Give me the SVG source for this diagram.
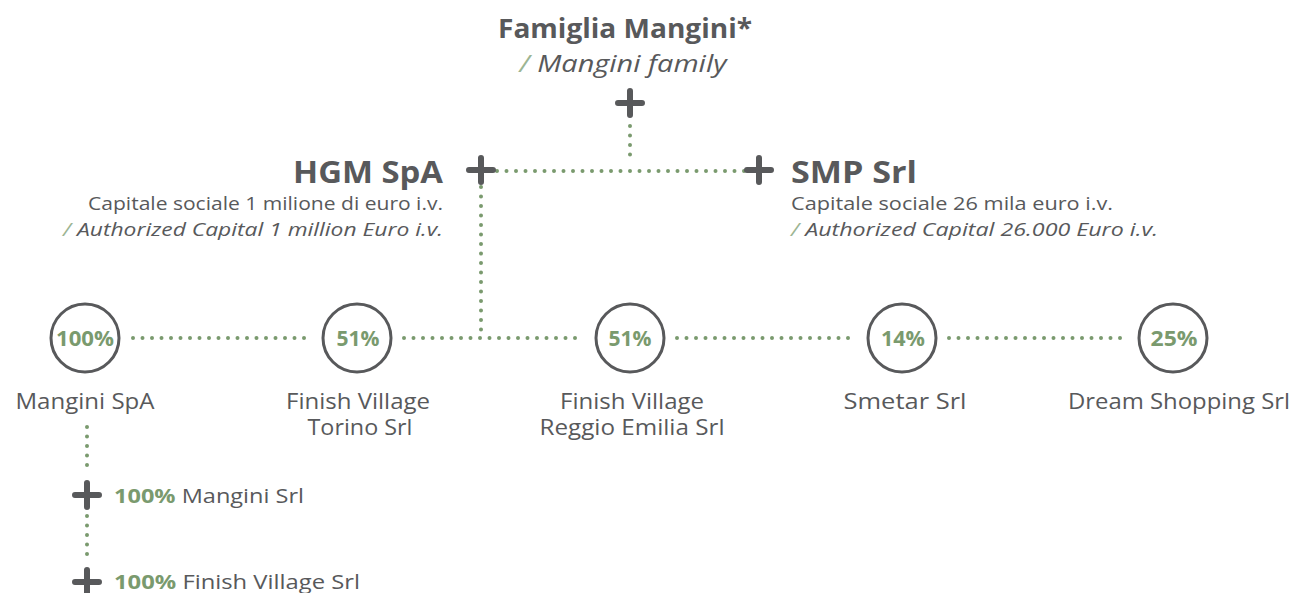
<svg xmlns="http://www.w3.org/2000/svg" width="1294" height="593" viewBox="0 0 1294 593">
<style>
text{font-family:"Open Sans","Liberation Sans",sans-serif;fill:#58595b}
.b{font-weight:bold}
.i{font-style:italic}
.g{fill:#7a9a6e}
.sl{fill:#9cb593}
.dot{fill:none;stroke:#7a9a6e;stroke-width:4;stroke-linecap:round;stroke-dasharray:0 9.5}
.plus{fill:none;stroke:#58595b;stroke-width:6;stroke-linecap:round}
.circ{fill:#fff;stroke:#58595b;stroke-width:3}
.pct{font-weight:bold;font-size:22px;fill:#7a9a6e;text-anchor:middle}
.lbl{font-size:21px;text-anchor:middle}
</style>
<defs>
<path id="p" d="M-12 0H12M0-12V12"/>
</defs>
<g id="connectors">
<path class="dot" d="M630 126V162"/>
<path class="dot" d="M497 171H745"/>
<path class="dot" d="M481 187V336"/>
<path class="dot" d="M133 338H310M404 338H583M677 338H855M949 338H1126"/>
<path class="dot" d="M87 427V472M87 516V562"/>
</g>
<g id="famiglia">
<text class="b" x="625" y="38" font-size="26" text-anchor="middle" textLength="254" lengthAdjust="spacingAndGlyphs">Famiglia Mangini*</text>
<text class="i" x="623" y="72" font-size="23" text-anchor="middle" textLength="207" lengthAdjust="spacingAndGlyphs"><tspan class="sl">/ </tspan>Mangini family</text>
<use href="#p" class="plus" x="630" y="103"/>
</g>
<g id="hgm">
<text class="b" x="443" y="183" font-size="30" text-anchor="end" textLength="150" lengthAdjust="spacingAndGlyphs">HGM SpA</text>
<text x="443" y="210" font-size="19" text-anchor="end" textLength="355" lengthAdjust="spacingAndGlyphs">Capitale sociale 1 milione di euro i.v.</text>
<text class="i" x="443" y="236" font-size="19" text-anchor="end" textLength="380" lengthAdjust="spacingAndGlyphs"><tspan class="sl">/ </tspan>Authorized Capital 1 million Euro i.v.</text>
<use href="#p" class="plus" x="481" y="170"/>
</g>
<g id="smp">
<text class="b" x="791" y="183" font-size="30" textLength="126" lengthAdjust="spacingAndGlyphs">SMP Srl</text>
<text x="791" y="210" font-size="19" textLength="322" lengthAdjust="spacingAndGlyphs">Capitale sociale 26 mila euro i.v.</text>
<text class="i" x="791" y="236" font-size="19" textLength="367" lengthAdjust="spacingAndGlyphs"><tspan class="sl">/ </tspan>Authorized Capital 26.000 Euro i.v.</text>
<use href="#p" class="plus" x="759" y="170"/>
</g>
<g id="mangini-spa">
<circle class="circ" cx="85" cy="338" r="34"/>
<text class="pct" x="85" y="346" textLength="58" lengthAdjust="spacingAndGlyphs">100%</text>
<text class="lbl" x="85" y="409" textLength="139" lengthAdjust="spacingAndGlyphs">Mangini SpA</text>
</g>
<g id="fv-torino">
<circle class="circ" cx="357" cy="338" r="34"/>
<text class="pct" x="358" y="346" textLength="43" lengthAdjust="spacingAndGlyphs">51%</text>
<text class="lbl" x="358" y="409" textLength="144" lengthAdjust="spacingAndGlyphs">Finish Village</text>
<text class="lbl" x="360" y="435" textLength="105" lengthAdjust="spacingAndGlyphs">Torino Srl</text>
</g>
<g id="fv-reggio">
<circle class="circ" cx="630" cy="338" r="34"/>
<text class="pct" x="630" y="346" textLength="43" lengthAdjust="spacingAndGlyphs">51%</text>
<text class="lbl" x="632" y="409" textLength="144" lengthAdjust="spacingAndGlyphs">Finish Village</text>
<text class="lbl" x="632" y="435" textLength="185" lengthAdjust="spacingAndGlyphs">Reggio Emilia Srl</text>
</g>
<g id="smetar">
<circle class="circ" cx="902" cy="338" r="34"/>
<text class="pct" x="903" y="346" textLength="44" lengthAdjust="spacingAndGlyphs">14%</text>
<text class="lbl" x="905" y="409" textLength="123" lengthAdjust="spacingAndGlyphs">Smetar Srl</text>
</g>
<g id="dream">
<circle class="circ" cx="1173" cy="338" r="34"/>
<text class="pct" x="1174" y="346" textLength="47" lengthAdjust="spacingAndGlyphs">25%</text>
<text class="lbl" x="1179" y="409" textLength="222" lengthAdjust="spacingAndGlyphs">Dream Shopping Srl</text>
</g>
<g id="mangini-srl">
<use href="#p" class="plus" x="87" y="495"/>
<text x="114" y="503" font-size="20" textLength="190" lengthAdjust="spacingAndGlyphs"><tspan class="b g">100%</tspan> Mangini Srl</text>
</g>
<g id="fv-srl">
<use href="#p" class="plus" x="87" y="582"/>
<text x="114" y="589" font-size="20" textLength="246" lengthAdjust="spacingAndGlyphs"><tspan class="b g">100%</tspan> Finish Village Srl</text>
</g>
</svg>
